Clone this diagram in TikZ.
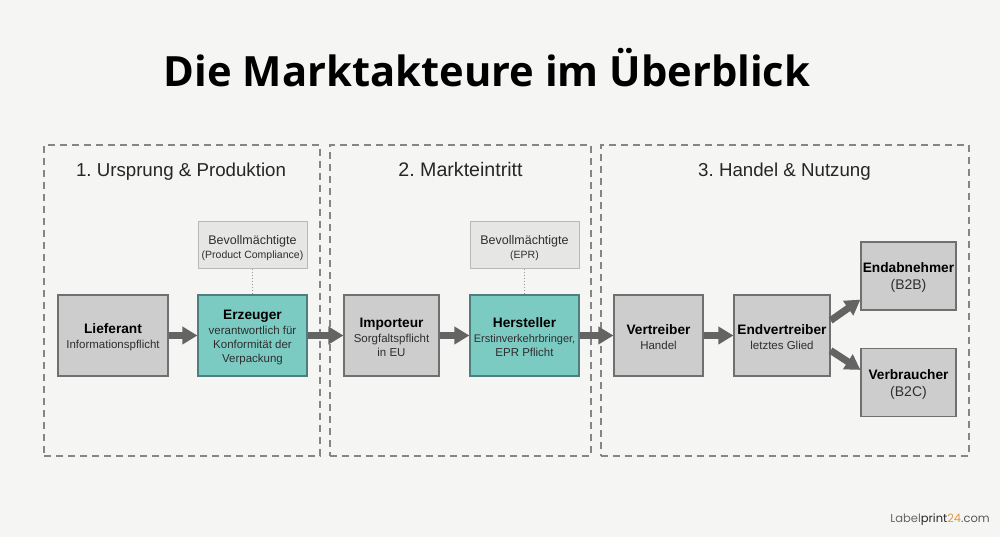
\documentclass[tikz,border=0pt]{standalone}
\usepackage{fontspec}
\setmainfont{Liberation Sans}
\newfontfamily\titlefont{Open Sans}
\newfontfamily\logofont{Poppins}
\usetikzlibrary{arrows.meta,calc}
\frenchspacing
\definecolor{pagebg}{HTML}{F5F5F3}
\definecolor{boxgray}{HTML}{CDCDCD}
\definecolor{boxline}{HTML}{707070}
\definecolor{tealfill}{HTML}{7CCBC3}
\definecolor{tealline}{HTML}{4E7F7B}
\definecolor{lightfill}{HTML}{E6E6E5}
\definecolor{lightline}{HTML}{B8B8B8}
\definecolor{flow}{HTML}{646464}
\definecolor{frameline}{HTML}{858585}
\definecolor{subtext}{HTML}{2E2E2E}
\definecolor{logoorange}{HTML}{E8963C}
\newcommand{\headline}[1]{\rule{0pt}{13.5pt}{\fontsize{13.7}{17}\selectfont\bfseries\color{black}#1}}
\newcommand{\bigsub}[1]{{\fontsize{14}{16}\selectfont #1}}
\newcommand{\smallsub}[1]{{\fontsize{10.5}{13}\selectfont #1}}
\newcommand{\tightsub}[1]{{\fontsize{11}{14}\selectfont #1}}
\tikzset{
  x=1pt,y=-1pt,
  plainbox/.style={draw=boxline,line width=1.2pt,fill=boxgray,inner sep=0pt,align=center,text=subtext,font=\fontsize{11.5}{14}\selectfont,minimum height=81pt},
  tealbox/.style={plainbox,draw=tealline,fill=tealfill},
  helper/.style={draw=lightline,line width=1pt,fill=lightfill,inner sep=0pt,align=center,text=subtext,font=\fontsize{12.5}{14.5}\selectfont,minimum width=109pt,minimum height=46pt},
  zone/.style={draw=frameline,line width=1.2pt,dash pattern=on 7pt off 5pt,inner sep=0pt},
  zonetitle/.style={font=\fontsize{18.7}{22}\selectfont,text=black!85,inner sep=0pt,anchor=base},
  flowarrow/.style={draw=flow,line width=7pt,-{Triangle[length=15pt,width=17pt]}},
  link/.style={draw=black!40,line width=1pt,dash pattern=on 1pt off 2pt},
}
\begin{document}
\begin{tikzpicture}
\fill[pagebg] (0,0) rectangle (1000,537);
\useasboundingbox (0,0) rectangle (1000,537);
\node[font=\titlefont\fontsize{41.7}{50}\selectfont\bfseries,inner sep=0pt] (title) at (487,68) {Die Marktakteure im Überblick};

\node[zone,minimum width=276pt,minimum height=311pt] (z1) at (182,300.5) {};
\node[zone,minimum width=261pt,minimum height=311pt] (z2) at (460.5,300.5) {};
\node[zone,minimum width=368pt,minimum height=311pt] (z3) at (785,300.5) {};
\node[zonetitle] (t1) at (181,176.5) {1. Ursprung \& Produktion};
\node[zonetitle,font=\fontsize{19.6}{22}\selectfont] (t2) at (460.5,176.5) {2. Markteintritt};
\node[zonetitle] (t3) at (784.5,176.5) {3. Handel \& Nutzung};

\node[plainbox,minimum width=110pt] (lief) at (113,335.5) {\headline{Lieferant}\\[1pt]Informationspflicht};
\node[tealbox,minimum width=109pt] (erz) at (252.5,335.5) {\headline{Erzeuger}\\[1.5pt]verantwortlich für\\Konformität der\\Verpackung};
\node[plainbox,minimum width=95pt] (imp) at (391.5,335.5) {\headline{Importeur}\\[1pt]Sorgfaltspflicht\\in EU};
\node[tealbox,minimum width=109pt] (her) at (524.5,335.5) {\headline{Hersteller}\\[1pt]\tightsub{Erstinverkehrbringer,}\\EPR Pflicht};
\node[plainbox,minimum width=89pt] (ver) at (658.5,335.5) {\headline{Vertreiber}\\[1pt]Handel};
\node[plainbox,minimum width=96pt] (end) at (782,335.5) {\headline{Endvertreiber}\\[1pt]letztes Glied};
\node[plainbox,minimum width=95pt,minimum height=68pt] (abn) at (908.5,276) {\headline{Endabnehmer}\\[3pt]\bigsub{(B2B)}};
\node[plainbox,minimum width=95pt,minimum height=68pt] (vbr) at (908.5,382.5) {\headline{Verbraucher}\\[3pt]\bigsub{(B2C)}};

\node[helper] (bev1) at (252.5,245) {\rule{0pt}{15pt}Bevollmächtigte\\\smallsub{(Product Compliance)}};
\node[helper] (bev2) at (524.5,245) {\rule{0pt}{15pt}Bevollmächtigte\\\smallsub{(EPR)}};

\draw[link] (bev1) -- (erz);
\draw[link] (bev2) -- (her);
\draw[flowarrow] (lief) -- (erz);
\draw[flowarrow] (erz) -- (imp);
\draw[flowarrow] (imp) -- (her);
\draw[flowarrow] (her) -- (ver);
\draw[flowarrow] (ver) -- (end);
\draw[flowarrow] ([yshift=15pt]end.east) -- ([yshift=11pt]abn.south west);
\draw[flowarrow] ([yshift=-15pt]end.east) -- ([yshift=-22pt]vbr.north west);

\node[font=\logofont\fontsize{11.5}{14}\selectfont,anchor=east,inner sep=0pt] (logo) at (990,520) {\textcolor{black!60}{Label}\textcolor{black!85}{print}\textcolor{logoorange}{24}\textcolor{black!65}{.com}};
\end{tikzpicture}
\end{document}
